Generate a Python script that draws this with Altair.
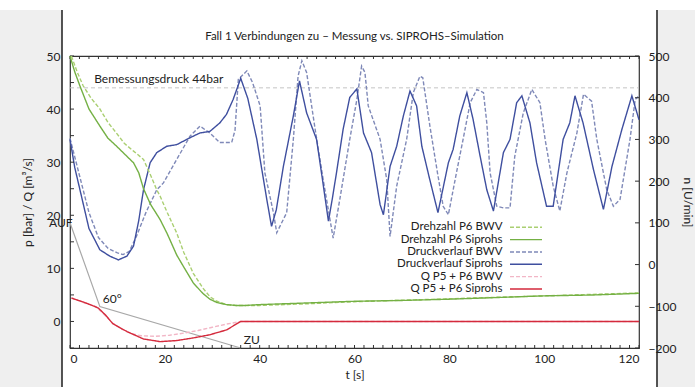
import altair as alt
import pandas as pd

# ---- series names (legend order) ----
NAMES = [
    "Drehzahl P6 BWV",
    "Drehzahl P6 Siprohs",
    "Druckverlauf BWV",
    "Druckverlauf Siprohs",
    "Q P5 + P6 BWV",
    "Q P5 + P6 Siprohs",
]
COLORS = ["#aacf72", "#74b044", "#7f89b8", "#3f4f9f", "#f2b6c6", "#d42a3c"]
DASHES = [[4, 2], [1, 0], [4, 2], [1, 0], [4, 2], [1, 0]]

TITLE = "Fall 1 Verbindungen zu – Messung vs. SIPROHS–Simulation"

# ---- Drehzahl (right axis, U/min) ----
n_sim_t = [0, 1, 2.1, 4, 6.3, 8, 9.8, 11.5, 13.4, 14.5, 15.5, 17, 19, 20.5, 22.5, 24, 26, 28,
           29.5, 31, 33, 35, 37, 40, 50, 60, 70, 80, 90, 100, 110, 120]
n_sim_v = [500, 462, 428, 373, 332, 303, 284, 265, 244, 220, 182, 144, 108, 74, 23, -6, -44, -69,
           -83, -91, -96, -98, -98, -96, -92, -88, -86, -83, -79, -75, -73, -69]

n_bwv_t = [0.3, 1.5, 2.8, 4.5, 6.3, 8, 9.8, 11.5, 13.4, 15.5, 17, 18.3, 19, 20.5, 22.5, 24, 26, 28,
           29.5, 31, 33, 35, 40, 50, 60, 80, 100, 120]
n_bwv_v = [500, 462, 428, 398, 373, 341, 315, 290, 272, 252, 214, 179, 164, 125, 76, 29, -21, -56,
           -77, -88, -96, -98, -98, -94, -89, -82, -75, -68]

# ---- Druckverlauf (left axis, bar) ----
p_sim_t = [0, 1, 2.1, 4, 6.3, 8.4, 10.2, 12, 13.4, 14.5, 15.5, 16.9, 18.3, 20.4, 22.5, 25.3, 27.4,
           29.5, 31.6, 33, 34.4, 36, 37.5, 39.4, 41.5, 42.5, 43.5, 45, 47.1, 48.4, 49.9, 52, 53.2,
           54.5, 55.3, 56.2, 57.6, 59, 60.5, 61.9, 63.6, 65.4, 66.1, 67.5, 68.9, 70.3, 71.7, 73.1,
           74.2, 75.8, 77.6, 79.8, 80.8, 82.2, 83.7, 85, 86.5, 87.9, 89.3, 91.4, 92.8, 94.2, 95.3,
           97, 98.4, 100.5, 101.9, 104, 105.4, 106.5, 108.2, 110.4, 112.5, 114.3, 116.4, 118.5, 120]
p_sim_v = [34.3, 29, 24.8, 17.5, 13.5, 12.3, 11.6, 12.3, 14.2, 19, 24.8, 29.9, 31.8, 33, 33.3, 34.6,
           35.5, 35.8, 37.4, 39, 41.8, 45.8, 42, 34.3, 23, 17.9, 21, 29.2, 38.7, 45.3, 39.3, 34.3,
           27, 18.9, 23, 28, 36.2, 42.2, 43.8, 35.5, 31.8, 22, 20.1, 29.2, 33, 38.7, 43.4, 40.6,
           33, 27, 20.5, 29.9, 32.4, 38.7, 43.1, 38.1, 31.1, 24.8, 20.8, 31.8, 34.3, 41.2, 42.5,
           37.4, 29.9, 21.7, 21.7, 34.3, 37.4, 42.5, 37.4, 28.6, 21.1, 29.2, 36.2, 42.5, 38]

p_bwv_t = [0, 2, 4, 6, 8, 10, 11.2, 12.5, 14, 16, 18.3, 19.7, 22.5, 25.3, 27.4, 29.5, 31.6, 34.1,
           34.8, 35.5, 37.3, 38.5, 40.1, 41.1, 42.9, 43.6, 45.7, 47.1, 48.1, 48.9, 49.9, 51.7, 53.4,
           55.5, 56.9, 59, 60.5, 61.5, 62.2, 62.9, 65.4, 66.8, 67.5, 68.9, 71, 72.4, 73.8, 74.4,
           75.9, 77.5, 78.7, 79.8, 81.5, 82.9, 84.4, 85.8, 87.2, 87.9, 88.6, 90, 91.4, 92.8, 93.8,
           95.6, 97.4, 99.1, 100.2, 101.9, 103.3, 104.8, 106.9, 108.3, 110, 111.1, 113.2, 114.6,
           116, 118.1, 119.2, 120]
p_bwv_v = [34.5, 27.5, 20.5, 15.8, 13.8, 12.9, 12.6, 13.2, 16, 20.5, 24.8, 26.1, 30.5, 34.9, 36.8,
           35.5, 33.7, 33.7, 36, 45.6, 47.2, 45, 40.6, 28, 20.5, 16.7, 20.5, 34.3, 46.2, 49.1, 46.9,
           36.2, 26.7, 15.7, 23, 34.3, 41.8, 48.1, 46.9, 40.6, 34.3, 26.7, 16, 25.5, 34.3, 43.1,
           46.2, 45.9, 36.8, 28, 21.7, 20.1, 28, 34.3, 41.2, 43.7, 43.1, 37.4, 28, 21.7, 21.4, 21.4,
           31.1, 39.3, 43.7, 41.2, 34.3, 25.5, 20.8, 28, 35.5, 42.8, 41.5, 34.3, 24.8, 21.7, 23,
           34.3, 41.8, 42.5]

# ---- Durchfluss Q (left axis, m3/s) ----
q_sim_t = [0.3, 3, 5, 6, 7.5, 9, 12, 15.5, 19, 22.5, 26, 29.5, 33, 36, 60, 90, 120]
q_sim_v = [4.4, 3.6, 2.9, 2.5, 1.2, -0.4, -1.9, -3.3, -3.8, -3.6, -3.1, -2.5, -1.6, 0, 0, 0, 0]

q_bwv_t = [0.3, 3, 5.5, 7, 9, 11, 13, 15, 18, 21, 24, 27, 30, 33, 36, 60, 90, 120]
q_bwv_v = [4.5, 3.5, 2.8, 1.5, -0.3, -1.5, -2.3, -2.7, -2.8, -2.6, -2.2, -1.7, -1.1, -0.5, 0, 0, 0, 0]

# ---- Schliessgesetz der Armatur (AUF -> 60° -> ZU) ----
valve_t = [0, 6.3, 36]
valve_v = [18.6, 2.8, -5]
valve_labels = ["AUF", "60°", "ZU"]

BEMESSUNGSDRUCK = 44

X_TICKS = [0, 20, 40, 60, 80, 100, 120]
P_TICKS = [0, 10, 20, 30, 40, 50]
N_TICKS = [-200, -100, 0, 100, 200, 300, 400, 500]

W, H = 569, 292
FONT = "Lato"
INK = "#222"


def frame(name, t, v, col):
    return pd.DataFrame({"t": t, col: v, "Reihe": name})


left_df = pd.concat([
    frame(NAMES[2], p_bwv_t, p_bwv_v, "v"),
    frame(NAMES[3], p_sim_t, p_sim_v, "v"),
    frame(NAMES[4], q_bwv_t, q_bwv_v, "v"),
    frame(NAMES[5], q_sim_t, q_sim_v, "v"),
])
right_df = pd.concat([
    frame(NAMES[0], n_bwv_t, n_bwv_v, "n"),
    frame(NAMES[1], n_sim_t, n_sim_v, "n"),
])
valve_df = pd.DataFrame({"t": valve_t, "v": valve_v, "label": valve_labels})
legend_df = pd.DataFrame({"Reihe": NAMES, "row": list(range(len(NAMES)))})

x_scale = alt.Scale(domain=[0, 120], nice=False)
p_scale = alt.Scale(domain=[-5, 50], nice=False)
n_scale = alt.Scale(domain=[-200, 500], nice=False)
row_scale = alt.Scale(domain=[0, 5], range=[171.3, 233])

color = alt.Color("Reihe:N", scale=alt.Scale(domain=NAMES, range=COLORS), legend=None)
dash = alt.StrokeDash("Reihe:N", scale=alt.Scale(domain=NAMES, range=DASHES), legend=None)

x_enc = alt.X("t:Q", scale=x_scale, axis=alt.Axis(
    values=X_TICKS, title="t [s]", grid=False, tickSize=0, domain=False,
    labelFont=FONT, labelFontSize=12, labelColor=INK, labelPadding=5,
    titleFont=FONT, titleFontSize=12, titleFontWeight="normal", titleColor=INK,
    titlePadding=5, zindex=1))

# light page panels at both sides with dark edge lines
one = pd.DataFrame({"a": [0]})
panel_l = alt.Chart(one).mark_rect(color="#efefef").encode(
    x=alt.value(-70), x2=alt.value(-8), y=alt.value(-46), y2=alt.value(331))
panel_r = alt.Chart(one).mark_rect(color="#efefef").encode(
    x=alt.value(587), x2=alt.value(625), y=alt.value(-46), y2=alt.value(331))
edge_l = alt.Chart(one).mark_rule(color="#2a2a2a", strokeWidth=1.6).encode(
    x=alt.value(-8), y=alt.value(-46), y2=alt.value(331))
edge_r = alt.Chart(one).mark_rule(color="#2a2a2a", strokeWidth=1.6).encode(
    x=alt.value(587), y=alt.value(-46), y2=alt.value(331))

# chart heading, centred over the plot
heading = alt.Chart(pd.DataFrame({"txt": [TITLE]})).mark_text(
    align="center", baseline="middle", font=FONT, fontSize=11.5, color=INK).encode(
    x=alt.value(W / 2), y=alt.value(-19), text="txt:N")

p_lines = alt.Chart(left_df).mark_line(strokeWidth=1.4).encode(
    x=x_enc,
    y=alt.Y("v:Q", scale=p_scale, axis=alt.Axis(
        values=P_TICKS, title="p [bar] / Q [m³/s]", grid=False, tickSize=0, domain=False,
        labelFont=FONT, labelFontSize=12, labelColor=INK, labelPadding=10,
        titleFont=FONT, titleFontSize=12, titleFontWeight="normal", titleColor=INK,
        titlePadding=12, zindex=1)),
    color=color, strokeDash=dash,
    order=alt.Order("t:Q"),
)

design = alt.Chart(pd.DataFrame({"v": [BEMESSUNGSDRUCK], "t0": [0], "t1": [120]})).mark_rule(
    color="#c4c4c4", strokeDash=[4, 3], strokeWidth=1).encode(
    x="t0:Q", x2="t1:Q", y=alt.Y("v:Q", scale=p_scale))
design_label = alt.Chart(pd.DataFrame({"v": [BEMESSUNGSDRUCK], "t": [5.1],
                                       "txt": ["Bemessungsdruck 44bar"]})).mark_text(
    align="left", baseline="bottom", dy=-2, font=FONT, fontSize=12, color=INK).encode(
    x="t:Q", y=alt.Y("v:Q", scale=p_scale), text="txt:N")

valve_line = alt.Chart(valve_df).mark_line(color="#a8a8a8", strokeWidth=1.2).encode(
    x="t:Q", y=alt.Y("v:Q", scale=p_scale))
valve_auf = alt.Chart(valve_df).transform_filter(alt.datum.label == "AUF").mark_text(
    align="left", baseline="middle", dx=-21, font=FONT, fontSize=12, color=INK).encode(
    x="t:Q", y=alt.Y("v:Q", scale=p_scale), text="label:N")
valve_rest = alt.Chart(valve_df).transform_filter(alt.datum.label != "AUF").mark_text(
    align="left", baseline="middle", dx=3, dy=-8, font=FONT, fontSize=12, color=INK).encode(
    x="t:Q", y=alt.Y("v:Q", scale=p_scale), text="label:N")

# inward tick marks on the frame
t_minor = pd.DataFrame({"t": list(range(0, 121, 2))})
ticks_bottom = alt.Chart(t_minor).mark_rule(color="#333").encode(
    x="t:Q", y=alt.value(H), y2=alt.value(H - 3))
ticks_top = alt.Chart(t_minor).mark_rule(color="#333").encode(
    x="t:Q", y=alt.value(0), y2=alt.value(3))
p_minor = pd.DataFrame({"v": list(range(-5, 51, 5))})
ticks_left = alt.Chart(p_minor).mark_rule(color="#333").encode(
    y=alt.Y("v:Q", scale=p_scale), x=alt.value(0), x2=alt.value(4))

left_group = alt.layer(panel_l, panel_r, edge_l, edge_r, heading, design, valve_line, p_lines,
                       design_label, valve_auf, valve_rest, ticks_bottom, ticks_top, ticks_left)

n_lines = alt.Chart(right_df).mark_line(strokeWidth=1.4).encode(
    x=x_enc,
    y=alt.Y("n:Q", scale=n_scale, axis=alt.Axis(
        values=N_TICKS, title="n [U/min]", orient="right", grid=False, tickSize=0,
        domain=False, labelFont=FONT, labelFontSize=12, labelColor=INK, labelPadding=9,
        titleFont=FONT, titleFontSize=12, titleFontWeight="normal", titleColor=INK,
        titlePadding=5, zindex=1)),
    color=color, strokeDash=dash,
    order=alt.Order("t:Q"),
)
n_ticks = alt.Chart(pd.DataFrame({"n": N_TICKS})).mark_rule(color="#333").encode(
    y=alt.Y("n:Q", scale=n_scale), x=alt.value(W), x2=alt.value(W - 4))
right_group = alt.layer(n_lines, n_ticks)

# legend: right-aligned labels with the line sample to their right
leg_text = alt.Chart(legend_df).mark_text(
    align="right", baseline="middle", font=FONT, fontSize=11.5, color=INK).encode(
    x=alt.value(432.5), y=alt.Y("row:Q", scale=row_scale, axis=None), text="Reihe:N")
leg_line = alt.Chart(legend_df).mark_rule(strokeWidth=1.4).encode(
    x=alt.value(440), x2=alt.value(472), y=alt.Y("row:Q", scale=row_scale, axis=None),
    color=color, strokeDash=dash)
legend_group = alt.layer(leg_text, leg_line)

chart = alt.layer(left_group, right_group, legend_group).resolve_scale(
    y="independent").properties(
    width=W, height=H,
    autosize=alt.AutoSizeParams(type="none"),
    padding={"left": 70, "top": 56, "right": 56, "bottom": 39},
    background="white",
).configure_view(stroke="#333", strokeWidth=1.2)

chart.save("out.html", embed_options={"renderer": "svg", "actions": False})
